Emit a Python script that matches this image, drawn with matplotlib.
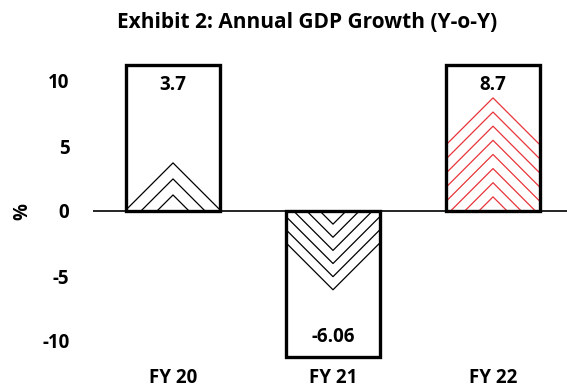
import numpy as np
import matplotlib.pyplot as plt
from matplotlib.patches import Rectangle

plt.rcParams['font.family'] = ['Open Sans', 'DejaVu Sans']

# data
years = ['FY 20', 'FY 21', 'FY 22']
growth = [3.7, -6.06, 8.7]
chevrons = [3, 6, 8]          # number of stacked chevrons per bar
colors = ['black', 'black', '#e8343a']
frame = 11.2                  # height of the outline box behind each bar

fig = plt.figure(figsize=(5.67, 3.87), dpi=100)
ax = fig.add_axes([93/567, 20/387, 480/567, 312/387])
ax.set_xlim(-0.5, 2.5)
ax.set_ylim(-12, 12)

bw = 0.59
# slope in data units that looks like 45 degrees on screen
p0 = ax.transData.transform((0, 0))
p1 = ax.transData.transform((1, 1))
slope = (p1[0] - p0[0]) / (p1[1] - p0[1])

for i, (v, n, c) in enumerate(zip(growth, chevrons, colors)):
    sign = np.sign(v)
    box = Rectangle((i - bw/2, 0), bw, sign*frame, fill=False,
                    edgecolor='black', linewidth=2.4, zorder=3)
    ax.add_patch(box)
    clip = Rectangle((i - bw/2, 0), bw, sign*frame, transform=ax.transData)
    for k in range(1, n + 1):
        h = v * k / n
        L = bw
        xs = [i - L, i, i + L]
        ys = [h - sign*slope*L, h, h - sign*slope*L]
        ln, = ax.plot(xs, ys, color=c, linewidth=0.9, zorder=2)
        ln.set_clip_path(clip)
    ax.text(i, sign*9.7, f'{v:g}', ha='center', va='center',
            fontsize=13.5, fontweight='bold', zorder=4)

ax.axhline(0, color='black', linewidth=1.2, zorder=1)

ax.set_xticks(range(len(years)))
ax.set_xticklabels(years, fontsize=13.5, fontweight='bold')
ax.set_yticks([-10, -5, 0, 5, 10])
ax.set_yticklabels(['-10', '-5', '0', '5', '10'], fontsize=13.5, fontweight='bold')
ax.tick_params(length=0, pad=17)
ax.tick_params(axis='x', pad=1)
ax.set_ylabel('%', fontsize=13.5, fontweight='bold', labelpad=7)
for s in ax.spines.values():
    s.set_visible(False)

fig.text(307/567, 1 - 22/387, 'Exhibit 2: Annual GDP Growth (Y-o-Y)',
         ha='center', va='center', fontsize=15, fontweight='bold')

fig.savefig('out.png', dpi=100)
